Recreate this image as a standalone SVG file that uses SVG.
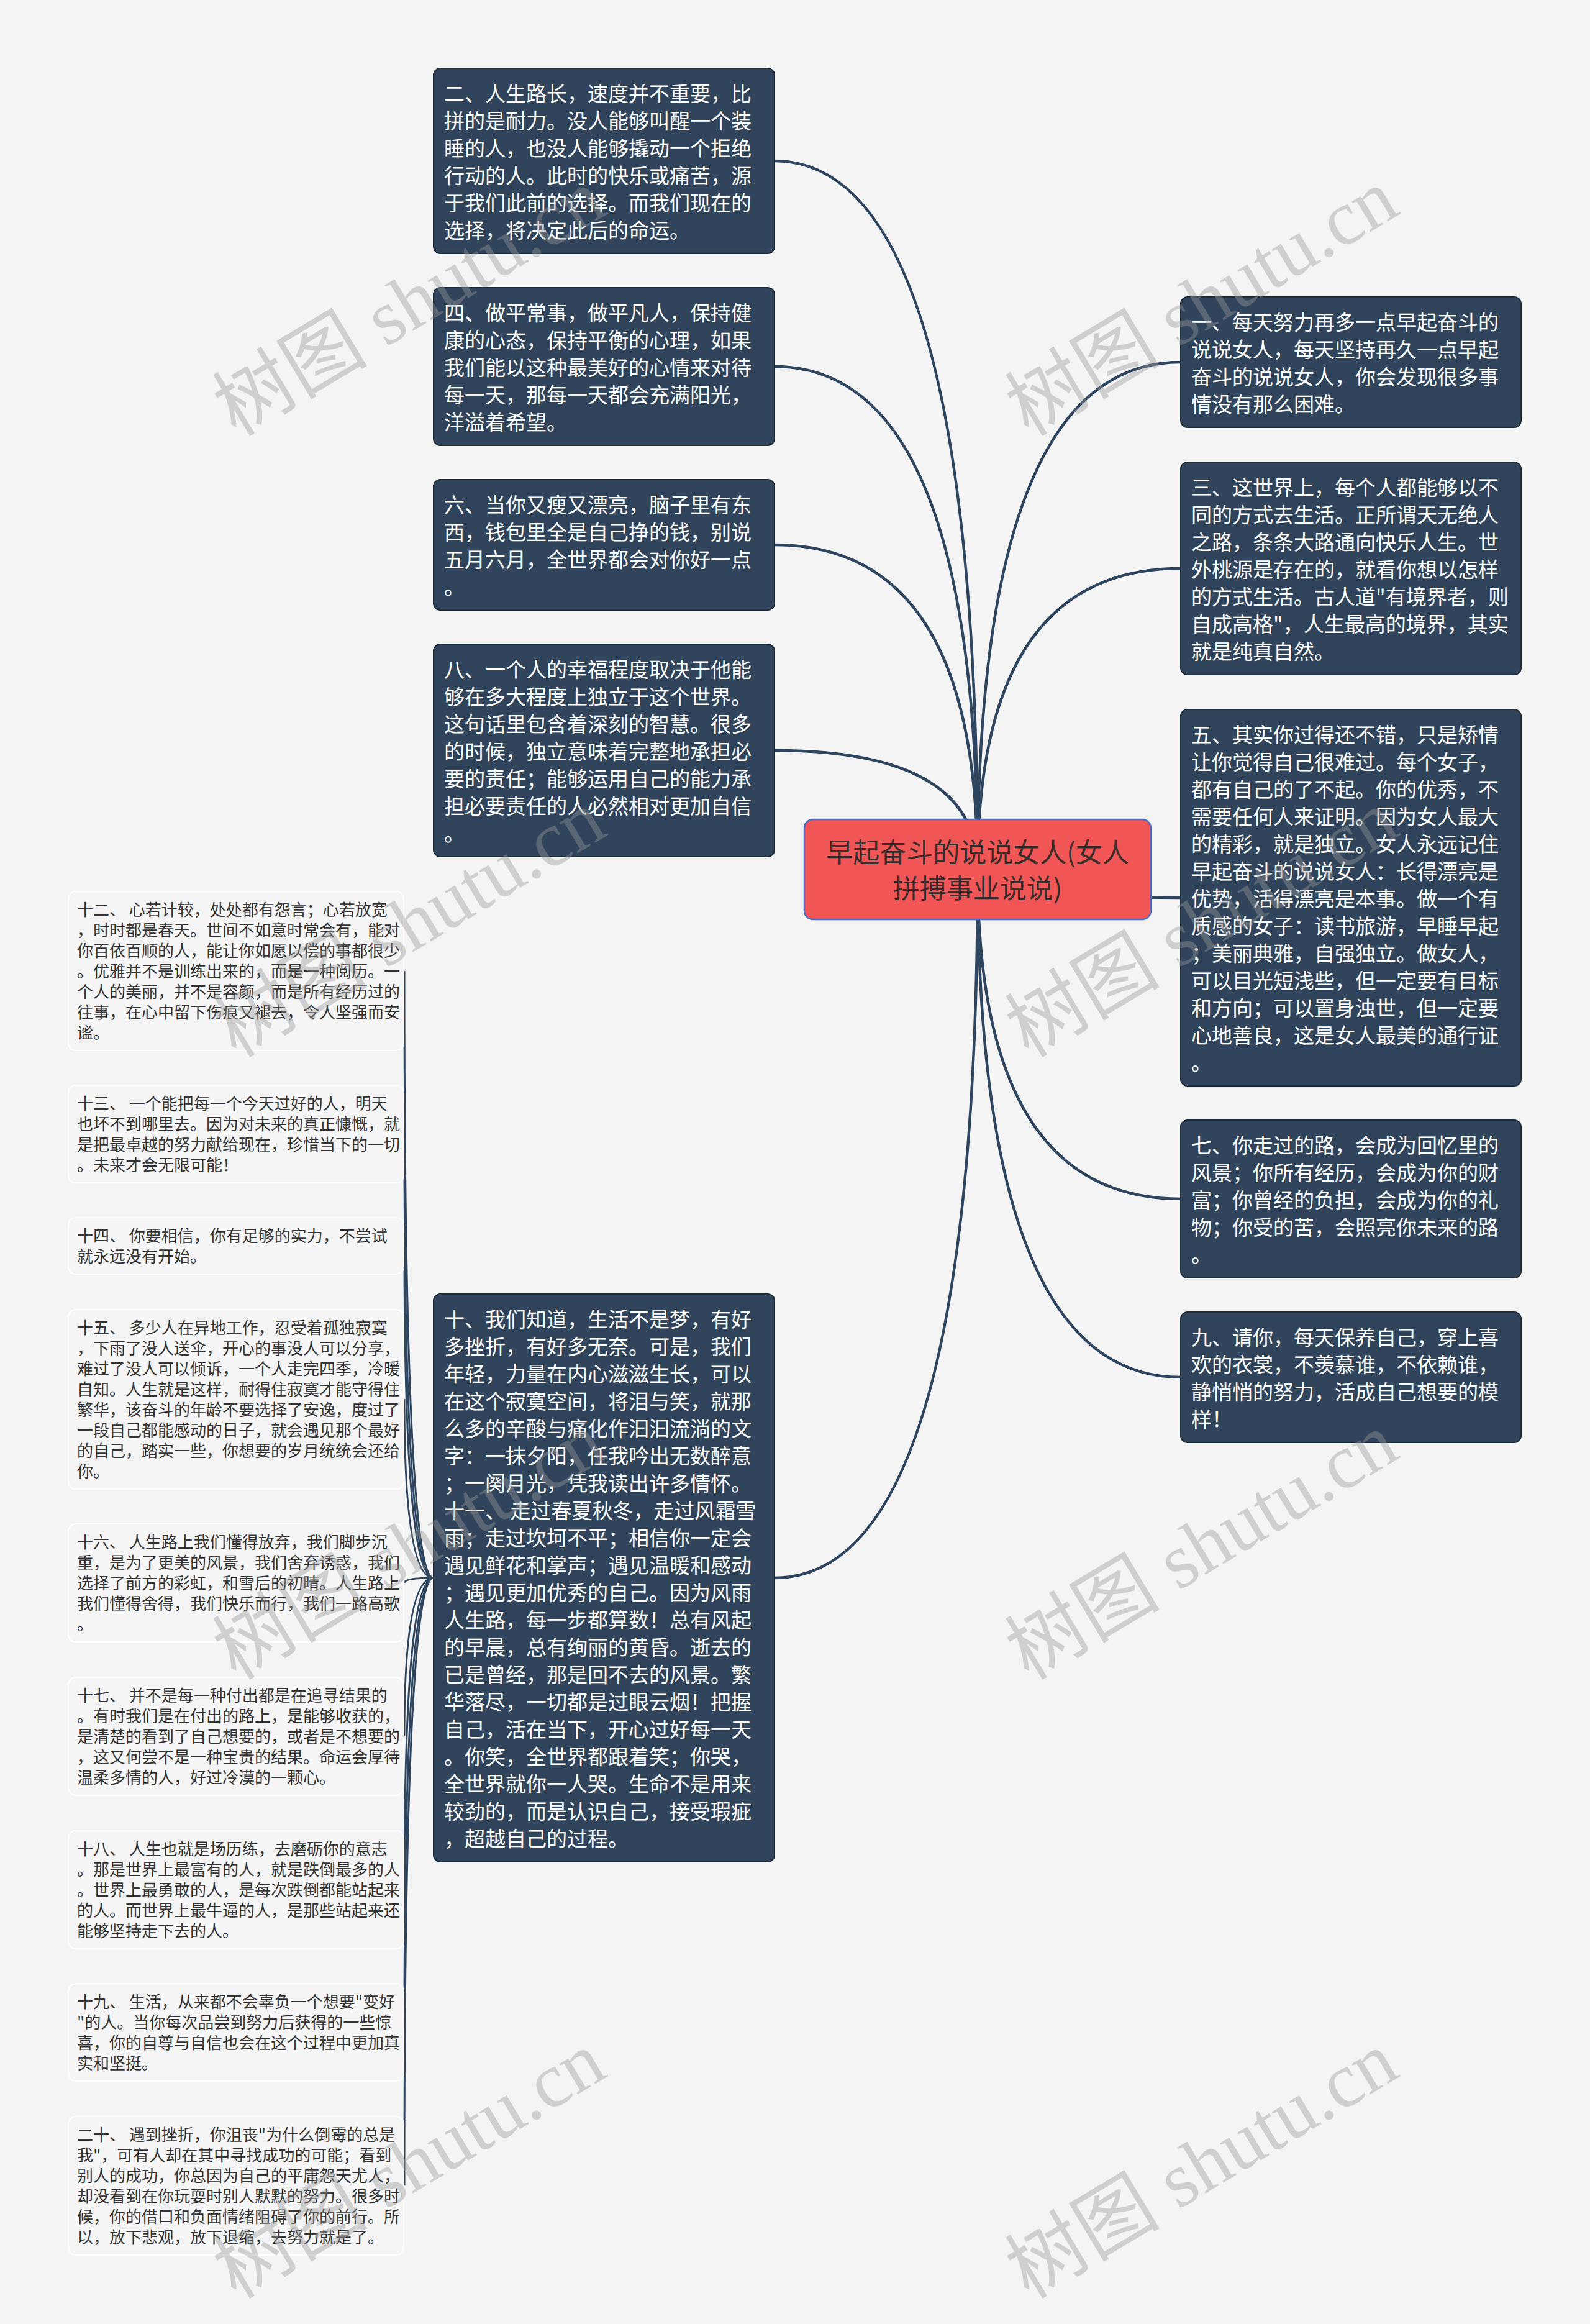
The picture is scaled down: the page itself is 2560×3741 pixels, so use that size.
<svg xmlns="http://www.w3.org/2000/svg" width="2560" height="3741" viewBox="0 0 2560 3741">
<style>
.bg{fill:#f4f4f4}
.dk rect{fill:#30455c;stroke:#1f2d3b;stroke-width:2}
.dk text{font-family:"Noto Sans CJK SC","Noto Sans",sans-serif;font-size:33px;fill:#ffffff}
.lt rect{fill:#f5f5f5;stroke:#ffffff;stroke-width:2}
.lt text{font-family:"Noto Sans CJK SC","Noto Sans",sans-serif;font-size:26px;fill:#333333}
.ct rect{fill:#f05656;stroke:#4a6cc0;stroke-width:2.5}
.ct text{font-family:"Noto Sans CJK SC","Noto Sans",sans-serif;font-size:43px;fill:#3b2c2c;text-anchor:middle}
.main path{fill:none;stroke:#2e4560;stroke-width:4.5}
.sub path{fill:none;stroke:#2e4560;stroke-width:3}
.wm text{font-family:"Liberation Serif","Noto Sans CJK SC",serif;font-size:125px;fill:#999999;opacity:0.4}
</style>
<rect class="bg" x="0" y="0" width="2560" height="3741"/>
<g id="connectors">
<g class="main">
<path d="M1574 1400 Q1574 259 1247 259"/>
<path d="M1574 1400 Q1574 590 1247 590"/>
<path d="M1574 1400 Q1574 877 1247 877"/>
<path d="M1574 1400 Q1574 1208 1247 1208"/>
<path d="M1574 1400 Q1574 2540 1247 2540"/>
<path d="M1574 1400 Q1574 583 1901 583"/>
<path d="M1574 1400 Q1574 915 1901 915"/>
<path d="M1574 1400 Q1574 1445 1901 1445"/>
<path d="M1574 1400 Q1574 1930 1901 1930"/>
<path d="M1574 1400 Q1574 2217 1901 2217"/>
</g>
<g class="sub">
<path d="M698 2540 Q651 2540 651 1563"/>
<path d="M698 2540 Q651 2540 651 1825"/>
<path d="M698 2540 Q651 2540 651 2005"/>
<path d="M698 2540 Q651 2540 651 2252"/>
<path d="M698 2540 Q651 2540 651 2548"/>
<path d="M698 2540 Q651 2540 651 2795"/>
<path d="M698 2540 Q651 2540 651 3042"/>
<path d="M698 2540 Q651 2540 651 3271"/>
<path d="M698 2540 Q651 2540 651 3518"/>
</g>
</g>
<g id="center" class="ct">
<rect x="1295" y="1319" width="558" height="161" rx="14"/>
<text x="1574" y="1388">早起奋斗的说说女人(女人<tspan x="1574" dy="58">拼搏事业说说)</tspan></text>
</g>
<g id="n2" class="dk">
<rect x="698" y="110" width="549" height="298" rx="11"/>
<text x="715" y="163"><tspan x="715">二、人生路长，速度并不重要，比</tspan><tspan x="715" dy="44">拼的是耐力。没人能够叫醒一个装</tspan><tspan x="715" dy="44">睡的人，也没人能够撬动一个拒绝</tspan><tspan x="715" dy="44">行动的人。此时的快乐或痛苦，源</tspan><tspan x="715" dy="44">于我们此前的选择。而我们现在的</tspan><tspan x="715" dy="44">选择，将决定此后的命运。</tspan></text>
</g>
<g id="n4" class="dk">
<rect x="698" y="463" width="549" height="254" rx="11"/>
<text x="715" y="516"><tspan x="715">四、做平常事，做平凡人，保持健</tspan><tspan x="715" dy="44">康的心态，保持平衡的心理，如果</tspan><tspan x="715" dy="44">我们能以这种最美好的心情来对待</tspan><tspan x="715" dy="44">每一天，那每一天都会充满阳光，</tspan><tspan x="715" dy="44">洋溢着希望。</tspan></text>
</g>
<g id="n6" class="dk">
<rect x="698" y="772" width="549" height="210" rx="11"/>
<text x="715" y="825"><tspan x="715">六、当你又瘦又漂亮，脑子里有东</tspan><tspan x="715" dy="44">西，钱包里全是自己挣的钱，别说</tspan><tspan x="715" dy="44">五月六月，全世界都会对你好一点</tspan><tspan x="715" dy="44">。</tspan></text>
</g>
<g id="n8" class="dk">
<rect x="698" y="1037" width="549" height="342" rx="11"/>
<text x="715" y="1090"><tspan x="715">八、一个人的幸福程度取决于他能</tspan><tspan x="715" dy="44">够在多大程度上独立于这个世界。</tspan><tspan x="715" dy="44">这句话里包含着深刻的智慧。很多</tspan><tspan x="715" dy="44">的时候，独立意味着完整地承担必</tspan><tspan x="715" dy="44">要的责任；能够运用自己的能力承</tspan><tspan x="715" dy="44">担必要责任的人必然相对更加自信</tspan><tspan x="715" dy="44">。</tspan></text>
</g>
<g id="n10" class="dk">
<rect x="698" y="2083" width="549" height="914" rx="11"/>
<text x="715" y="2136"><tspan x="715">十、我们知道，生活不是梦，有好</tspan><tspan x="715" dy="44">多挫折，有好多无奈。可是，我们</tspan><tspan x="715" dy="44">年轻，力量在内心滋滋生长，可以</tspan><tspan x="715" dy="44">在这个寂寞空间，将泪与笑，就那</tspan><tspan x="715" dy="44">么多的辛酸与痛化作汩汩流淌的文</tspan><tspan x="715" dy="44">字：一抹夕阳，任我吟出无数醉意</tspan><tspan x="715" dy="44">；一阕月光，凭我读出许多情怀。</tspan><tspan x="715" dy="44">十一、 走过春夏秋冬，走过风霜雪</tspan><tspan x="715" dy="44">雨；走过坎坷不平；相信你一定会</tspan><tspan x="715" dy="44">遇见鲜花和掌声；遇见温暖和感动</tspan><tspan x="715" dy="44">；遇见更加优秀的自己。因为风雨</tspan><tspan x="715" dy="44">人生路，每一步都算数！总有风起</tspan><tspan x="715" dy="44">的早晨，总有绚丽的黄昏。逝去的</tspan><tspan x="715" dy="44">已是曾经，那是回不去的风景。繁</tspan><tspan x="715" dy="44">华落尽，一切都是过眼云烟！把握</tspan><tspan x="715" dy="44">自己，活在当下，开心过好每一天</tspan><tspan x="715" dy="44">。你笑，全世界都跟着笑；你哭，</tspan><tspan x="715" dy="44">全世界就你一人哭。生命不是用来</tspan><tspan x="715" dy="44">较劲的，而是认识自己，接受瑕疵</tspan><tspan x="715" dy="44">，超越自己的过程。</tspan></text>
</g>
<g id="n1" class="dk">
<rect x="1901" y="478" width="548" height="210" rx="11"/>
<text x="1918" y="531"><tspan x="1918">一、每天努力再多一点早起奋斗的</tspan><tspan x="1918" dy="44">说说女人，每天坚持再久一点早起</tspan><tspan x="1918" dy="44">奋斗的说说女人，你会发现很多事</tspan><tspan x="1918" dy="44">情没有那么困难。</tspan></text>
</g>
<g id="n3" class="dk">
<rect x="1901" y="744" width="548" height="342" rx="11"/>
<text x="1918" y="797"><tspan x="1918">三、这世界上，每个人都能够以不</tspan><tspan x="1918" dy="44">同的方式去生活。正所谓天无绝人</tspan><tspan x="1918" dy="44">之路，条条大路通向快乐人生。世</tspan><tspan x="1918" dy="44">外桃源是存在的，就看你想以怎样</tspan><tspan x="1918" dy="44">的方式生活。古人道"有境界者，则</tspan><tspan x="1918" dy="44">自成高格"，人生最高的境界，其实</tspan><tspan x="1918" dy="44">就是纯真自然。</tspan></text>
</g>
<g id="n5" class="dk">
<rect x="1901" y="1142" width="548" height="606" rx="11"/>
<text x="1918" y="1195"><tspan x="1918">五、其实你过得还不错，只是矫情</tspan><tspan x="1918" dy="44">让你觉得自己很难过。每个女子，</tspan><tspan x="1918" dy="44">都有自己的了不起。你的优秀，不</tspan><tspan x="1918" dy="44">需要任何人来证明。因为女人最大</tspan><tspan x="1918" dy="44">的精彩，就是独立。女人永远记住</tspan><tspan x="1918" dy="44">早起奋斗的说说女人：长得漂亮是</tspan><tspan x="1918" dy="44">优势，活得漂亮是本事。做一个有</tspan><tspan x="1918" dy="44">质感的女子：读书旅游，早睡早起</tspan><tspan x="1918" dy="44">；美丽典雅，自强独立。做女人，</tspan><tspan x="1918" dy="44">可以目光短浅些，但一定要有目标</tspan><tspan x="1918" dy="44">和方向；可以置身浊世，但一定要</tspan><tspan x="1918" dy="44">心地善良，这是女人最美的通行证</tspan><tspan x="1918" dy="44">。</tspan></text>
</g>
<g id="n7" class="dk">
<rect x="1901" y="1803" width="548" height="254" rx="11"/>
<text x="1918" y="1856"><tspan x="1918">七、你走过的路，会成为回忆里的</tspan><tspan x="1918" dy="44">风景；你所有经历，会成为你的财</tspan><tspan x="1918" dy="44">富；你曾经的负担，会成为你的礼</tspan><tspan x="1918" dy="44">物；你受的苦，会照亮你未来的路</tspan><tspan x="1918" dy="44">。</tspan></text>
</g>
<g id="n9" class="dk">
<rect x="1901" y="2112" width="548" height="210" rx="11"/>
<text x="1918" y="2165"><tspan x="1918">九、请你，每天保养自己，穿上喜</tspan><tspan x="1918" dy="44">欢的衣裳，不羡慕谁，不依赖谁，</tspan><tspan x="1918" dy="44">静悄悄的努力，活成自己想要的模</tspan><tspan x="1918" dy="44">样！</tspan></text>
</g>
<g id="n12" class="lt">
<rect x="110" y="1435" width="540" height="256" rx="12"/>
<text x="124" y="1474"><tspan x="124">十二、 心若计较，处处都有怨言；心若放宽</tspan><tspan x="124" dy="33">，时时都是春天。世间不如意时常会有，能对</tspan><tspan x="124" dy="33">你百依百顺的人，能让你如愿以偿的事都很少</tspan><tspan x="124" dy="33">。优雅并不是训练出来的，而是一种阅历。一</tspan><tspan x="124" dy="33">个人的美丽，并不是容颜，而是所有经历过的</tspan><tspan x="124" dy="33">往事，在心中留下伤痕又褪去，令人坚强而安</tspan><tspan x="124" dy="33">谧。</tspan></text>
</g>
<g id="n13" class="lt">
<rect x="110" y="1747" width="540" height="157" rx="12"/>
<text x="124" y="1786"><tspan x="124">十三、 一个能把每一个今天过好的人，明天</tspan><tspan x="124" dy="33">也坏不到哪里去。因为对未来的真正慷慨，就</tspan><tspan x="124" dy="33">是把最卓越的努力献给现在，珍惜当下的一切</tspan><tspan x="124" dy="33">。未来才会无限可能！</tspan></text>
</g>
<g id="n14" class="lt">
<rect x="110" y="1960" width="540" height="91" rx="12"/>
<text x="124" y="1999"><tspan x="124">十四、 你要相信，你有足够的实力，不尝试</tspan><tspan x="124" dy="33">就永远没有开始。</tspan></text>
</g>
<g id="n15" class="lt">
<rect x="110" y="2108" width="540" height="289" rx="12"/>
<text x="124" y="2147"><tspan x="124">十五、 多少人在异地工作，忍受着孤独寂寞</tspan><tspan x="124" dy="33">，下雨了没人送伞，开心的事没人可以分享，</tspan><tspan x="124" dy="33">难过了没人可以倾诉，一个人走完四季，冷暖</tspan><tspan x="124" dy="33">自知。人生就是这样，耐得住寂寞才能守得住</tspan><tspan x="124" dy="33">繁华，该奋斗的年龄不要选择了安逸，度过了</tspan><tspan x="124" dy="33">一段自己都能感动的日子，就会遇见那个最好</tspan><tspan x="124" dy="33">的自己，踏实一些，你想要的岁月统统会还给</tspan><tspan x="124" dy="33">你。</tspan></text>
</g>
<g id="n16" class="lt">
<rect x="110" y="2453" width="540" height="190" rx="12"/>
<text x="124" y="2492"><tspan x="124">十六、 人生路上我们懂得放弃，我们脚步沉</tspan><tspan x="124" dy="33">重，是为了更美的风景，我们舍弃诱惑，我们</tspan><tspan x="124" dy="33">选择了前方的彩虹，和雪后的初晴。人生路上</tspan><tspan x="124" dy="33">我们懂得舍得，我们快乐而行，我们一路高歌</tspan><tspan x="124" dy="33">。</tspan></text>
</g>
<g id="n17" class="lt">
<rect x="110" y="2700" width="540" height="190" rx="12"/>
<text x="124" y="2739"><tspan x="124">十七、 并不是每一种付出都是在追寻结果的</tspan><tspan x="124" dy="33">。有时我们是在付出的路上，是能够收获的，</tspan><tspan x="124" dy="33">是清楚的看到了自己想要的，或者是不想要的</tspan><tspan x="124" dy="33">，这又何尝不是一种宝贵的结果。命运会厚待</tspan><tspan x="124" dy="33">温柔多情的人，好过冷漠的一颗心。</tspan></text>
</g>
<g id="n18" class="lt">
<rect x="110" y="2947" width="540" height="190" rx="12"/>
<text x="124" y="2986"><tspan x="124">十八、 人生也就是场历练，去磨砺你的意志</tspan><tspan x="124" dy="33">。那是世界上最富有的人，就是跌倒最多的人</tspan><tspan x="124" dy="33">。世界上最勇敢的人，是每次跌倒都能站起来</tspan><tspan x="124" dy="33">的人。而世界上最牛逼的人，是那些站起来还</tspan><tspan x="124" dy="33">能够坚持走下去的人。</tspan></text>
</g>
<g id="n19" class="lt">
<rect x="110" y="3193" width="540" height="157" rx="12"/>
<text x="124" y="3232"><tspan x="124">十九、 生活，从来都不会辜负一个想要"变好</tspan><tspan x="124" dy="33">"的人。当你每次品尝到努力后获得的一些惊</tspan><tspan x="124" dy="33">喜，你的自尊与自信也会在这个过程中更加真</tspan><tspan x="124" dy="33">实和坚挺。</tspan></text>
</g>
<g id="n20" class="lt">
<rect x="110" y="3407" width="540" height="223" rx="12"/>
<text x="124" y="3446"><tspan x="124">二十、 遇到挫折，你沮丧"为什么倒霉的总是</tspan><tspan x="124" dy="33">我"，可有人却在其中寻找成功的可能；看到</tspan><tspan x="124" dy="33">别人的成功，你总因为自己的平庸怨天尤人，</tspan><tspan x="124" dy="33">却没看到在你玩耍时别人默默的努力。很多时</tspan><tspan x="124" dy="33">候，你的借口和负面情绪阻碍了你的前行。所</tspan><tspan x="124" dy="33">以，放下悲观，放下退缩，去努力就是了。</tspan></text>
</g>
<g id="watermarks" class="wm">
<text transform="translate(380,704) rotate(-31)">树图 shutu.cn</text>
<text transform="translate(1656,704) rotate(-31)">树图 shutu.cn</text>
<text transform="translate(380,1704) rotate(-31)">树图 shutu.cn</text>
<text transform="translate(1656,1704) rotate(-31)">树图 shutu.cn</text>
<text transform="translate(380,2706) rotate(-31)">树图 shutu.cn</text>
<text transform="translate(1656,2706) rotate(-31)">树图 shutu.cn</text>
<text transform="translate(380,3702) rotate(-31)">树图 shutu.cn</text>
<text transform="translate(1656,3702) rotate(-31)">树图 shutu.cn</text>
</g>
</svg>
